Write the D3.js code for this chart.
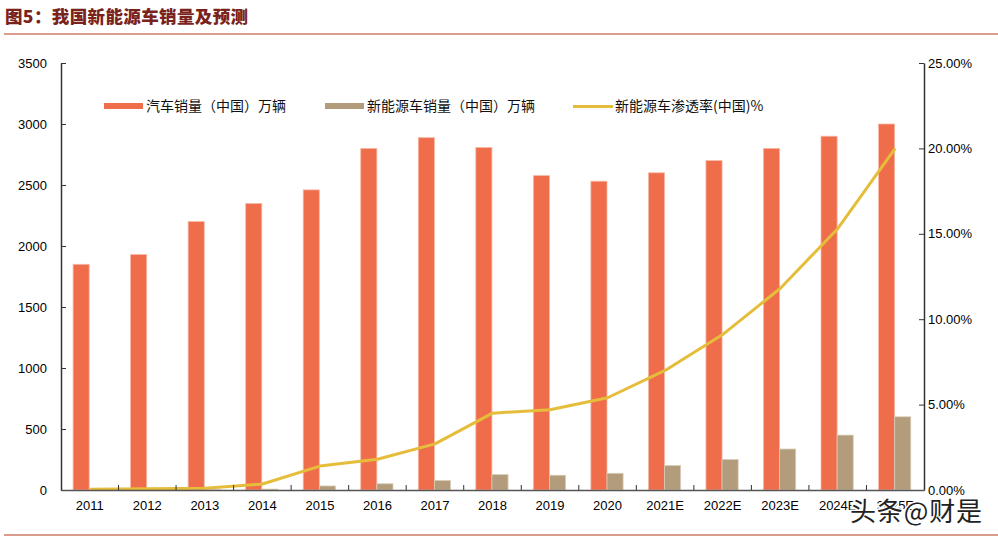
<!DOCTYPE html>
<html>
<head>
<meta charset="utf-8">
<script src="https://cdn.jsdelivr.net/npm/d3@7"></script>
<style>
  body { margin: 0; background: #fff; }
  svg { display: block; font-family: "Liberation Sans", Arial, "Noto Sans CJK SC", sans-serif; }
</style>
</head>
<body>
<script>
// chart values
const years = ["2011", "2012", "2013", "2014", "2015", "2016", "2017", "2018", "2019", "2020",
               "2021E", "2022E", "2023E", "2024E", "2025E"];
const carSales = [1850, 1930, 2200, 2349, 2460, 2800, 2888, 2808, 2577, 2531, 2600, 2700, 2800, 2900, 3000];
const nevSales = [0.8, 1.3, 1.8, 7.5, 33, 51, 78, 126, 121, 137, 200, 250, 336, 450, 600];
const nevShare = [0.0005, 0.0007, 0.001, 0.0035, 0.014, 0.018, 0.027, 0.045, 0.047, 0.054, 0.07, 0.091, 0.118, 0.153, 0.2];
const leftTicks = [0, 500, 1000, 1500, 2000, 2500, 3000, 3500];
const rightTicks = [0, 0.05, 0.1, 0.15, 0.2, 0.25];
const legendNames = ["汽车销量（中国）万辆", "新能源车销量（中国）万辆", "新能源车渗透率(中国)%"];

const outerWidth = 998, outerHeight = 539;
const margin = {top: 63, right: 74, bottom: 49, left: 61};
const width = outerWidth - margin.left - margin.right;
const height = outerHeight - margin.top - margin.bottom;

const orange = "#EF6D4A", tan = "#B29C7C", gold = "#E6BD3A";

const outerSvg = d3.select("body").append("svg")
    .attr("width", outerWidth)
    .attr("height", outerHeight);

// title + rules
outerSvg.append("text")
    .attr("x", 5).attr("y", 23)
    .attr("fill", "#7A231D")
    .style("font-size", "17.5px")
    .style("font-weight", "900")
    .style("font-family", "'Noto Sans CJK SC', sans-serif")
    .attr("textLength", 243)
    .text("图5：我国新能源车销量及预测");
outerSvg.append("line")
    .attr("x1", 4).attr("x2", 998).attr("y1", 34).attr("y2", 34)
    .attr("stroke", "#B8391F").attr("stroke-width", 1.2);
outerSvg.append("line")
    .attr("x1", 4).attr("x2", 998).attr("y1", 535).attr("y2", 535)
    .attr("stroke", "#B8391F").attr("stroke-width", 1.2);

const svg = outerSvg.append("g")
    .attr("transform", "translate(" + margin.left + "," + margin.top + ")");

const xScale = d3.scaleBand().domain(years).range([0, width]);
const yScale = d3.scaleLinear().domain([0, 3500]).range([height, 0]);
const pScale = d3.scaleLinear().domain([0, 0.25]).range([height, 0]);

const bw = xScale.bandwidth() * 0.28;
const off = xScale.bandwidth() * 0.21;

// bars
svg.selectAll(".car")
    .data(years)
    .join("rect")
    .attr("class", "car")
    .attr("x", d => xScale(d) + off)
    .attr("width", bw)
    .attr("y", (d, i) => yScale(carSales[i]))
    .attr("height", (d, i) => height - yScale(carSales[i]))
    .attr("fill", orange)
    .attr("stroke", "#F7B9A6").attr("stroke-width", 0.8);

svg.selectAll(".nev")
    .data(years)
    .join("rect")
    .attr("class", "nev")
    .attr("x", d => xScale(d) + off + bw)
    .attr("width", bw)
    .attr("y", (d, i) => yScale(nevSales[i]))
    .attr("height", (d, i) => height - yScale(nevSales[i]))
    .attr("fill", tan)
    .attr("stroke", "#D9CDB8").attr("stroke-width", 0.8);

// share line
const line = d3.line()
    .x((d, i) => xScale(years[i]) + xScale.bandwidth() / 2)
    .y(d => pScale(d));
svg.append("path")
    .datum(nevShare)
    .attr("d", line)
    .attr("fill", "none")
    .attr("stroke", gold)
    .attr("stroke-width", 3)
    .attr("stroke-linejoin", "round");

// axes
const yAxis = d3.axisLeft(yScale).tickValues(leftTicks).tickFormat(d3.format("d"))
    .tickSize(-5).tickPadding(14).tickSizeOuter(0);
const pAxis = d3.axisRight(pScale).tickValues(rightTicks).tickSize(-5).tickPadding(14)
    .tickFormat(d => (d * 100).toFixed(2) + "%").tickSizeOuter(0);
const xAxis = d3.axisBottom(xScale).tickSize(0).tickPadding(11).tickSizeOuter(0);

const yg = svg.append("g").call(yAxis);
const pg = svg.append("g").attr("transform", "translate(" + width + ",0)").call(pAxis);
const xg = svg.append("g").attr("transform", "translate(0," + height + ")").call(xAxis);

// x-axis boundary ticks pointing up
xg.selectAll(".bound")
    .data(years.slice(1))
    .join("line")
    .attr("class", "bound")
    .attr("x1", d => xScale(d)).attr("x2", d => xScale(d))
    .attr("y1", 0).attr("y2", -5)
    .attr("stroke", "#333");

[yg, pg, xg].forEach(g => {
    g.selectAll("text").style("font-size", "13px").attr("fill", "#000");
    g.select(".domain").attr("stroke", "#333").attr("stroke-width", 1.5);
    g.selectAll(".tick line").attr("stroke", "#333");
});
pg.selectAll("text").attr("x", 4).attr("text-anchor", "start");
yg.selectAll("text").attr("x", -14);
xg.select(".domain").attr("stroke", "#555");

// legend
const legend = outerSvg.append("g")
    .style("font-size", "14px")
    .style("font-family", "'Noto Sans CJK SC', sans-serif");
const legendItems = [
    {x: 104, color: orange, type: "bar"},
    {x: 325, color: tan, type: "bar"},
    {x: 573, color: gold, type: "line"}
];
legendItems.forEach((it, i) => {
    if (it.type === "bar") {
        legend.append("rect").attr("x", it.x).attr("y", 103).attr("width", 39).attr("height", 6).attr("fill", it.color);
    } else {
        legend.append("line").attr("x1", it.x).attr("x2", it.x + 40).attr("y1", 106.5).attr("y2", 106.5)
            .attr("stroke", it.color).attr("stroke-width", 3);
    }
    legend.append("text").attr("x", it.x + 42).attr("y", 111).attr("fill", "#111").text(legendNames[i]);
});

// watermark
outerSvg.append("text")
    .attr("x", 850).attr("y", 521)
    .style("font-size", "26px")
    .style("font-family", "'Noto Sans CJK SC', sans-serif")
    .attr("fill", "#222")
    .attr("stroke", "#fff").attr("stroke-width", 3).attr("paint-order", "stroke")
    .attr("textLength", 132)
    .text("头条@财是");
</script>
</body>
</html>
